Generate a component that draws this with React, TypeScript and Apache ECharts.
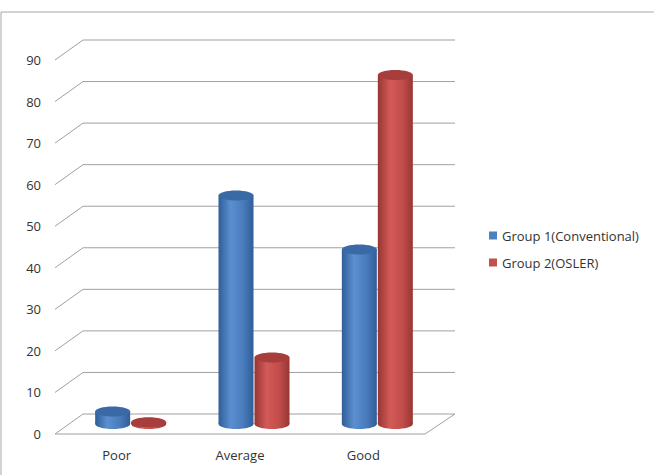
import React, { useEffect, useRef } from 'react';
import * as echarts from 'echarts';

const categories = ['Poor', 'Average', 'Good'];
const group1 = [3, 55, 42];
const group2 = [0.4, 16, 84];
const yTicks = [0, 10, 20, 30, 40, 50, 60, 70, 80, 90];

const DX = 28;
const DY = -20;
const FONT = 'Open Sans, Noto Sans, sans-serif';

const cylinder = (light: string, mid: string, dark: string, top: string, shift: number) =>
  (params: any, api: any) => {
    const idx = api.value(0);
    const val = api.value(1);
    const base = api.coord([idx, 0]);
    const topP = api.coord([idx, val]);
    const bw = 35;
    const cx = base[0] + shift + DX / 2;
    const y0 = base[1] + DY / 2;
    const y1 = topP[1] + DY / 2;
    const ry = 5;
    const grad = new echarts.graphic.LinearGradient(0, 0, 1, 0, [
      { offset: 0, color: dark },
      { offset: 0.35, color: light },
      { offset: 0.7, color: mid },
      { offset: 1, color: dark },
    ]);
    return {
      type: 'group',
      children: [
        { type: 'ellipse', shape: { cx, cy: y0, rx: bw / 2, ry }, style: { fill: grad } },
        { type: 'rect', shape: { x: cx - bw / 2, y: y1, width: bw, height: Math.max(0, y0 - y1) }, style: { fill: grad } },
        { type: 'ellipse', shape: { cx, cy: y1, rx: bw / 2, ry }, style: { fill: top } },
      ],
    };
  };

const App: React.FC = () => {
  const ref = useRef<HTMLDivElement | null>(null);

  useEffect(() => {
    if (!ref.current) return;
    const chart = echarts.init(ref.current, undefined, { renderer: 'svg' });
    chart.setOption({
      animation: false,
      backgroundColor: '#fff',
      graphic: [
        { type: 'rect', shape: { x: 1, y: 12, width: 700, height: 500 }, style: { fill: 'none', stroke: '#a6a6a6', lineWidth: 1 }, silent: true },
      ],
      legend: {
        orient: 'vertical',
        left: 484,
        top: 224,
        itemGap: 14,
        itemWidth: 8,
        itemHeight: 8,
        icon: 'rect',
        textStyle: { fontSize: 13, color: '#333', fontFamily: FONT },
        data: ['Group 1(Conventional)', 'Group 2(OSLER)'],
      },
      grid: { left: 55, top: 60, width: 370, bottom: 41 },
      xAxis: {
        type: 'category',
        data: categories,
        axisLine: { show: false },
        axisTick: { show: false },
        axisLabel: { fontSize: 13, color: '#333', margin: 14, fontFamily: FONT },
      },
      yAxis: {
        type: 'value',
        min: 0,
        max: 90,
        interval: 10,
        axisLine: { show: false },
        splitLine: { show: false },
        axisLabel: { fontSize: 13, color: '#333', margin: 14, fontFamily: FONT },
      },
      series: [
        {
          type: 'custom',
          silent: true,
          data: yTicks.map((v) => [0, v]),
          renderItem: (params: any, api: any) => {
            const cs = params.coordSys;
            const y = api.coord([0, api.value(1)])[1];
            const stroke = { stroke: '#a0a0a0', lineWidth: 1, fill: 'none' };
            const children: any[] = [
              { type: 'polyline', shape: { points: [[cs.x, y], [cs.x + DX, y + DY], [cs.x + cs.width + DX + 2, y + DY]] }, style: stroke },
            ];
            if (api.value(1) === 0) {
              children.push({ type: 'polyline', shape: { points: [[cs.x, y], [cs.x + cs.width, y], [cs.x + cs.width + DX + 2, y + DY]] }, style: stroke });
            }
            return { type: 'group', children };
          },
          z: 1,
        },
        {
          name: 'Group 1(Conventional)',
          type: 'custom',
          itemStyle: { color: '#4f81bd' },
          data: group1.map((v, i) => [i, v]),
          renderItem: cylinder('#5b8fd0', '#4a7cbc', '#2f5e98', '#3a6aa6', -18),
          z: 2,
        },
        {
          name: 'Group 2(OSLER)',
          type: 'custom',
          itemStyle: { color: '#c0504d' },
          data: group2.map((v, i) => [i, v]),
          renderItem: cylinder('#d35a57', '#c24d4a', '#963634', '#a73e3b', 18),
          z: 3,
        },
      ],
    });
    return () => chart.dispose();
  }, []);

  return <div ref={ref} style={{ position: 'fixed', left: 0, top: 0, width: 654, height: 475 }} />;
};

export default App;
